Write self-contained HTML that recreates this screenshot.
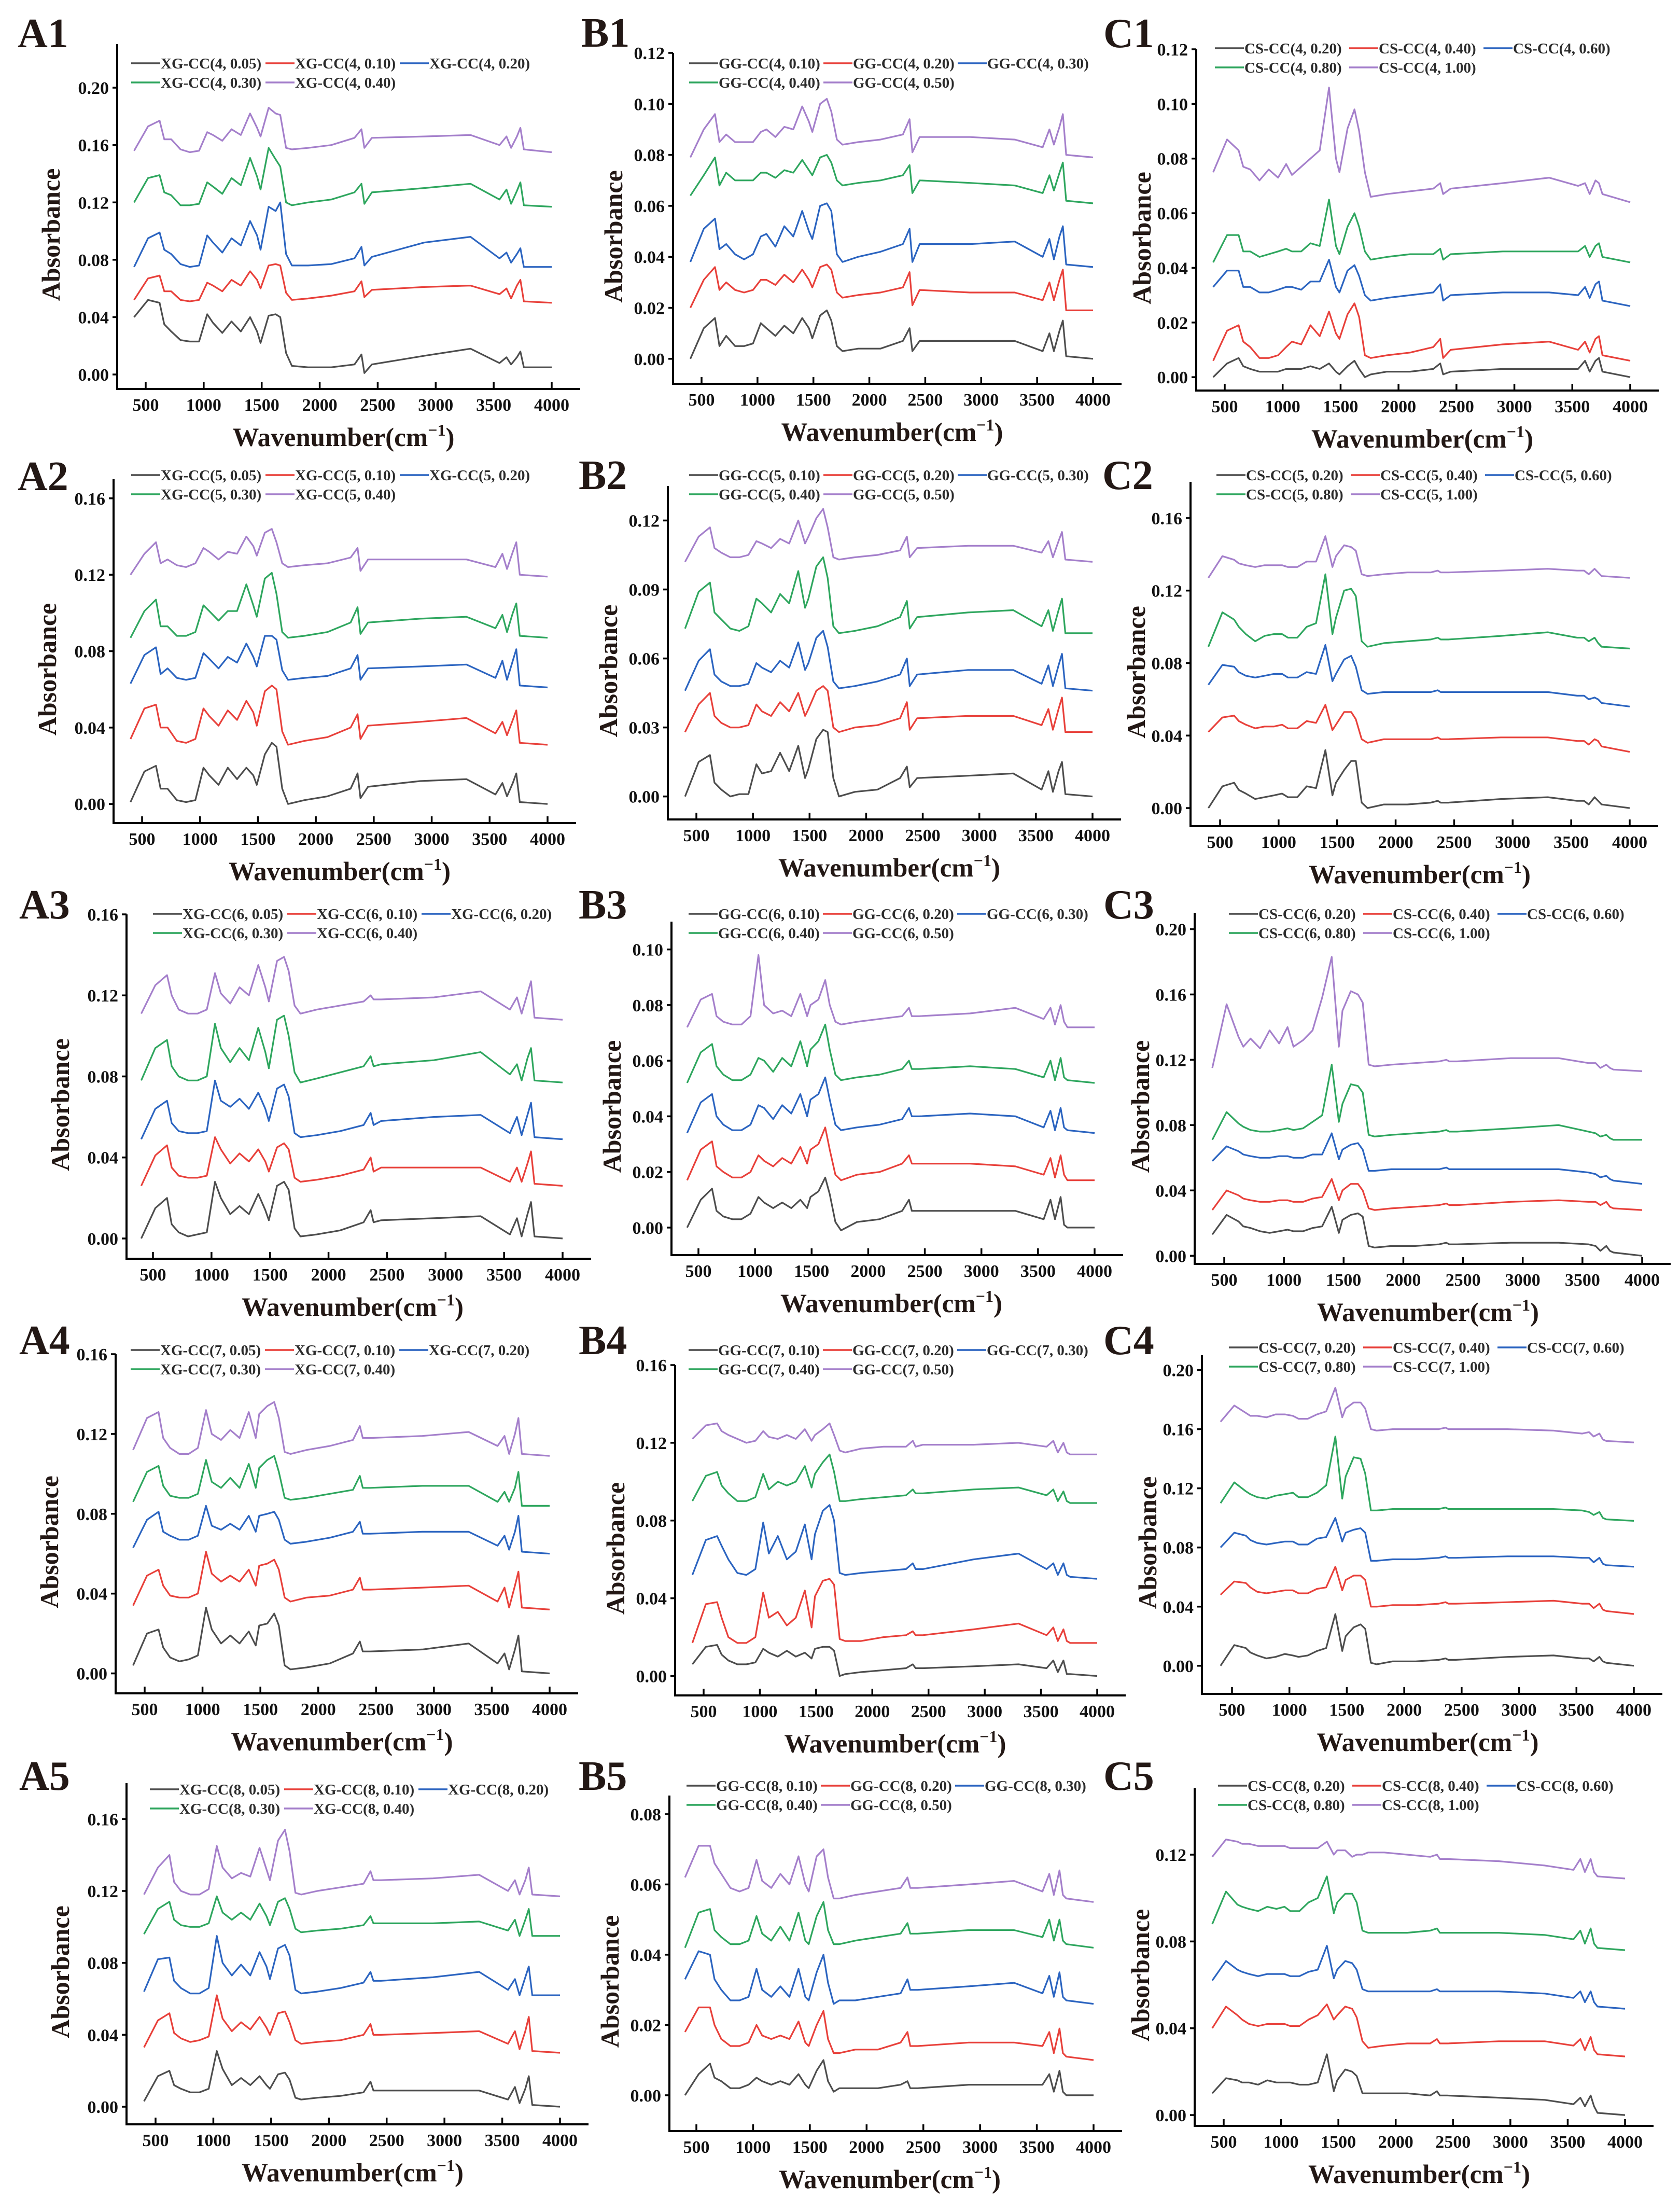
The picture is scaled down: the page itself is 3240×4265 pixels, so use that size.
<!DOCTYPE html>
<html><head><meta charset="utf-8">
<style>
html,body{margin:0;padding:0;background:#fff;}
svg{display:block;font-family:"Liberation Serif","DejaVu Serif",serif;font-weight:bold;}
</style></head>
<body>
<svg id="fig" xmlns="http://www.w3.org/2000/svg" width="3240" height="4265" viewBox="0 0 3240 4265"></svg>
<script>
// shared wavenumber grid (cm^-1)
const W = [400,520,620,660,720,800,880,960,1030,1080,1160,1240,1320,1400,1460,1490,1560,1620,1660,1710,1760,1900,2100,2300,2360,2385,2450,2900,3300,3550,3610,3650,3700,3730,3760,4000];
// absorbance values in units of 0.001
const A1_k=[40,52,50,35,30,24,23,23,42,36,29,37,30,40,30,22,41,42,40,15,6,5,5,7,14,1,7,13,18,8,12,7,12,16,5,5];
const A1_r=[52,67,69,58,58,52,51,52,64,62,58,66,62,72,66,60,76,77,76,57,52,53,55,58,65,54,59,61,62,56,60,53,62,66,51,50];
const A1_b=[75,95,99,87,84,77,75,76,97,92,85,95,90,107,97,87,117,114,120,84,76,76,77,81,89,76,82,92,96,81,85,78,84,88,75,75];
const A1_g=[120,137,139,127,125,118,118,119,134,131,126,137,132,151,138,129,158,150,145,120,118,120,122,127,133,119,127,130,133,122,129,119,128,134,118,117];
const A1_p=[156,173,177,164,164,157,155,156,169,167,163,171,167,182,172,166,186,182,181,158,157,158,160,165,171,158,165,166,167,160,166,158,166,172,157,155];
const B1_k=[0,12,16,5,9,5,5,6,14,12,9,13,10,16,12,8,17,19,15,5,3,4,4,7,12,3,7,7,7,3,10,3,11,15,1,0];
const B1_r=[20,31,36,27,30,27,26,27,31,31,29,33,30,35,31,28,36,37,35,26,24,25,26,28,34,21,27,26,26,23,30,23,31,35,19,19];
const B1_b=[38,51,55,43,45,41,39,41,48,49,44,52,48,58,50,47,60,61,58,41,38,40,42,45,51,38,45,45,46,40,47,39,48,52,37,36];
const B1_g=[64,72,79,68,73,70,70,70,73,73,71,74,73,78,74,72,79,80,77,70,68,69,70,72,76,65,70,69,68,65,72,66,73,77,62,61];
const B1_p=[79,90,96,85,88,85,85,85,89,90,87,91,90,99,93,89,100,102,97,86,84,85,86,88,94,81,87,87,86,83,90,84,91,96,80,79];
const C1_k=[0,5,7,4,3,2,2,2,3,3,3,4,3,5,2,1,4,6,3,0,1,2,2,3,5,1,2,3,3,3,6,2,6,7,2,0];
const C1_r=[6,17,19,13,11,7,7,8,11,13,12,19,15,24,16,14,23,27,22,8,7,8,9,11,14,7,10,12,13,10,13,9,14,15,8,6];
const C1_b=[33,39,39,33,33,31,31,32,33,33,32,35,35,43,33,31,39,41,37,30,28,29,30,31,34,28,30,31,31,30,33,29,34,35,28,26];
const C1_g=[42,52,52,46,46,44,45,46,47,46,46,49,48,65,48,45,55,60,55,46,43,44,45,45,47,43,45,46,46,46,48,44,48,49,44,42];
const C1_p=[75,87,83,77,76,72,76,73,78,74,77,80,83,106,80,75,91,98,90,75,66,67,68,69,71,67,69,71,73,70,71,67,72,71,67,64];
const A2_k=[1,17,20,8,8,2,1,2,19,15,10,19,13,19,15,10,26,32,30,8,0,2,4,8,16,3,9,12,13,5,11,4,11,16,1,0];
const A2_r=[34,50,52,40,40,33,32,34,50,46,41,49,44,54,48,41,59,62,60,38,31,33,35,40,47,34,41,43,45,37,43,36,44,49,32,31];
const A2_b=[63,78,82,68,71,66,65,66,79,76,71,77,74,84,77,72,88,88,86,70,65,66,67,71,78,65,71,72,73,66,75,65,75,81,62,61];
const A2_g=[87,101,107,93,93,88,88,90,104,101,96,101,101,115,104,98,118,121,110,90,87,88,90,95,103,89,95,97,98,92,99,90,100,105,88,87];
const A2_p=[120,131,137,126,128,125,124,126,134,132,128,132,131,140,135,130,142,144,137,126,124,125,126,129,134,122,128,128,128,124,131,123,132,137,120,119];
const B2_k=[0,15,18,6,3,0,1,1,14,10,11,19,11,22,8,12,25,29,28,8,0,2,3,8,13,4,8,9,10,3,11,2,11,15,1,0];
const B2_r=[28,40,45,35,32,30,30,31,40,37,35,41,37,45,35,38,46,48,46,30,28,30,31,34,41,29,34,35,35,31,38,29,38,43,28,28];
const B2_b=[46,59,64,53,50,48,48,49,58,56,54,59,56,67,55,58,69,72,65,50,47,48,50,53,60,48,53,55,55,49,57,48,57,62,47,46];
const B2_g=[73,89,93,80,77,73,72,74,86,84,80,88,84,98,82,86,100,104,95,74,71,72,74,78,85,73,78,80,81,74,81,72,81,86,71,71];
const B2_p=[102,113,117,108,106,104,104,105,111,110,108,112,110,120,110,113,121,125,117,104,103,104,105,107,113,104,108,109,109,106,111,104,111,115,103,102];
const C2_k=[0,12,14,10,8,5,6,7,8,6,6,12,11,32,7,14,21,26,26,3,0,2,2,3,4,3,3,5,6,4,4,2,6,4,2,0];
const C2_r=[42,50,51,48,46,44,45,45,46,44,44,48,47,57,43,46,53,53,49,38,36,38,38,38,39,38,38,39,39,37,37,35,38,37,34,31];
const C2_b=[68,79,78,75,73,72,73,74,74,72,72,75,74,90,70,74,82,84,78,65,63,64,64,64,65,64,64,64,64,62,62,60,61,60,58,56];
const C2_g=[89,108,104,100,96,92,95,96,96,94,94,100,102,129,96,105,120,121,117,92,89,91,92,93,94,93,93,95,97,94,94,92,94,91,89,88];
const C2_p=[127,139,137,135,134,133,134,134,134,133,133,136,136,150,133,139,145,144,142,129,128,129,130,130,131,130,130,131,132,131,131,129,132,130,128,127];
const A3_k=[0,15,20,7,3,1,2,3,28,20,12,16,12,22,14,9,26,28,24,5,1,2,4,8,14,8,9,10,11,2,10,1,12,18,1,0];
const A3_r=[26,41,46,35,31,30,30,31,50,44,37,42,38,44,38,33,45,47,44,30,28,29,31,34,40,33,35,35,35,28,35,28,37,43,27,26];
const A3_b=[49,64,68,57,53,52,52,53,78,68,65,69,64,72,64,58,74,76,70,52,50,51,53,56,62,56,58,60,61,52,60,51,61,67,50,49];
const A3_g=[78,94,98,85,80,78,78,80,106,94,87,94,88,104,92,84,108,110,100,82,77,79,82,85,90,85,86,88,92,81,86,78,89,94,78,77];
const A3_p=[111,125,130,120,113,111,111,113,131,121,116,124,120,135,124,117,137,139,132,115,111,113,115,117,120,118,118,119,122,113,119,111,121,127,109,108];
const B3_k=[0,10,14,6,4,3,3,5,11,9,7,9,7,10,7,11,13,18,12,2,-1,2,3,6,10,6,6,6,6,3,10,3,11,1,0,0];
const B3_r=[17,28,31,22,20,18,18,20,26,24,22,25,23,29,23,28,30,36,28,19,17,19,20,23,26,23,23,23,22,19,25,18,26,19,17,17];
const B3_b=[34,45,48,40,37,35,35,37,44,43,39,44,41,48,40,46,48,54,46,37,35,36,37,39,43,40,40,41,40,36,42,35,43,36,35,34];
const B3_g=[52,63,66,58,55,53,53,55,61,60,56,61,58,67,58,64,67,73,64,55,53,54,55,57,60,57,57,58,57,54,60,53,61,54,53,52];
const B3_p=[72,82,84,76,74,73,73,76,98,80,77,78,76,84,76,80,82,89,80,74,73,74,75,76,79,76,76,77,79,75,79,73,80,74,72,72];
const C3_k=[13,25,21,18,17,15,14,15,16,15,15,17,18,30,14,22,25,26,24,6,5,6,6,7,8,7,7,8,8,7,6,3,6,3,2,0];
const C3_r=[28,40,37,35,34,33,33,34,34,33,33,35,36,47,34,40,44,44,40,29,28,29,30,31,32,31,31,33,34,33,33,31,33,30,29,28];
const C3_b=[58,67,64,62,61,60,60,61,61,60,60,62,62,75,59,65,68,69,65,52,52,53,53,53,54,53,53,53,53,51,50,48,49,47,46,44];
const C3_g=[71,88,81,79,77,76,76,77,78,77,78,82,86,117,82,93,105,104,100,74,73,74,75,76,77,76,76,78,80,76,75,73,74,72,71,71];
const C3_p=[115,154,134,128,133,127,138,130,140,128,132,138,158,183,128,150,162,160,155,117,116,117,118,119,120,119,119,121,121,118,118,115,117,115,114,113];
const A4_k=[4,20,22,13,8,6,7,9,33,22,15,19,15,21,14,24,25,30,24,4,2,3,5,10,16,11,11,12,15,5,10,2,12,19,1,0];
const A4_r=[34,49,52,44,39,38,38,40,61,50,46,49,46,52,44,54,55,57,52,38,36,38,39,42,48,42,42,43,44,36,43,33,44,51,33,32];
const A4_b=[63,77,81,71,69,67,67,69,84,74,72,75,72,79,71,79,80,81,77,67,65,66,68,71,76,70,70,71,71,64,69,62,71,79,61,60];
const A4_g=[86,101,104,94,89,88,88,90,107,96,93,98,93,105,93,103,107,109,101,88,87,88,90,92,99,93,93,94,94,86,91,86,93,101,84,84];
const A4_p=[112,128,131,118,113,110,110,113,132,120,117,122,118,131,118,130,134,136,128,111,110,112,114,117,124,118,118,119,121,114,119,110,120,128,110,109];
const B4_k=[6,15,16,11,8,6,6,7,14,12,10,13,10,12,9,14,15,15,13,0,1,2,3,4,6,4,4,5,6,4,8,2,8,1,1,0];
const B4_r=[17,37,38,30,20,17,17,20,43,30,33,26,30,44,25,41,49,50,47,19,18,18,20,21,23,21,21,24,27,21,25,18,24,18,17,17];
const B4_b=[52,70,72,67,60,53,52,55,79,63,72,60,64,78,60,73,85,88,80,53,52,53,54,55,58,55,55,60,63,55,58,52,58,52,51,50];
const B4_g=[90,103,105,98,94,90,90,92,104,96,100,98,100,108,97,104,110,114,105,90,90,91,92,93,96,94,94,96,97,93,96,90,95,90,89,89];
const B4_p=[122,129,130,126,124,122,120,121,126,123,122,124,122,127,121,124,127,130,124,116,115,117,118,118,121,118,119,119,120,118,121,115,120,115,114,114];
const C4_k=[0,14,12,9,7,5,6,8,7,6,7,10,12,35,10,20,26,28,25,2,1,3,3,4,5,4,4,6,7,5,5,3,6,3,2,0];
const C4_r=[48,57,56,53,50,49,50,51,51,49,49,52,53,67,51,58,61,61,58,40,40,41,41,42,43,42,42,43,44,42,42,39,42,38,37,35];
const C4_b=[80,90,88,85,83,82,83,84,84,82,82,86,87,100,84,90,92,93,90,71,71,72,72,73,74,73,73,74,74,73,73,70,73,69,68,67];
const C4_g=[110,124,118,116,114,113,115,116,117,114,114,117,122,155,113,128,141,140,130,105,105,106,106,106,107,106,106,106,106,105,104,102,104,100,99,98];
const C4_p=[165,176,171,169,169,168,170,170,169,167,167,170,172,188,168,174,178,178,174,160,159,160,160,160,161,160,160,160,159,157,158,155,157,153,152,151];
const A5_k=[3,17,20,12,10,8,8,10,31,21,12,16,12,17,12,10,18,19,15,5,4,5,6,8,14,9,9,9,9,4,11,2,10,17,1,0];
const A5_r=[33,48,52,41,38,36,37,39,62,49,42,47,43,50,44,40,52,53,47,37,35,36,37,40,46,40,40,41,42,35,42,32,42,50,31,30];
const A5_b=[64,82,83,70,66,63,63,66,95,80,73,79,73,86,78,71,88,90,84,65,63,64,66,69,75,70,70,72,75,65,71,62,72,78,62,62];
const A5_g=[96,110,114,104,101,100,100,102,117,108,104,108,104,113,106,101,114,116,110,99,97,98,99,101,106,102,102,102,103,98,104,95,104,110,95,95];
const A5_p=[118,133,140,125,120,118,118,121,145,133,127,130,128,144,132,126,148,154,142,119,118,120,122,124,131,126,126,127,129,120,126,118,126,133,118,117];
const B5_k=[0,6,9,5,4,2,2,3,5,4,3,4,3,6,3,2,7,10,4,1,2,2,2,3,4,2,2,3,3,3,6,1,7,1,0,0];
const B5_r=[18,25,25,20,16,14,14,15,20,17,16,17,16,21,15,14,20,24,16,12,12,13,13,15,18,14,14,15,15,14,18,12,19,12,11,10];
const B5_b=[33,41,40,33,30,27,27,28,36,30,28,31,28,36,28,27,35,40,32,26,27,27,28,29,33,30,30,31,32,29,34,28,35,28,27,26];
const B5_g=[42,52,53,47,45,43,43,44,51,46,44,48,44,52,44,43,51,55,47,43,43,44,45,46,49,46,46,47,47,45,50,44,50,44,43,42];
const B5_p=[62,71,71,66,63,59,58,59,67,61,59,63,60,68,60,58,68,70,62,56,56,57,58,59,62,59,59,60,61,58,63,57,64,57,56,55];
const C5_k=[10,17,16,15,15,14,16,15,15,15,14,14,15,28,11,16,21,20,18,10,10,10,10,9,11,9,9,8,7,5,8,4,9,4,1,0];
const C5_r=[40,50,46,44,42,41,42,42,42,41,41,44,46,51,44,46,50,49,45,34,31,32,33,33,35,33,33,34,34,32,35,30,36,30,28,27];
const C5_b=[62,71,67,66,65,64,65,65,65,64,64,66,67,78,63,67,71,70,67,58,57,57,57,57,58,57,57,57,56,54,57,52,57,52,50,49];
const C5_g=[88,103,97,96,95,94,96,95,96,94,94,98,100,110,93,98,102,102,98,85,84,84,84,85,86,84,84,84,83,81,85,79,86,79,77,76];
const C5_p=[119,127,126,125,125,124,124,124,124,123,123,123,123,126,120,122,122,119,120,120,121,121,120,119,120,118,118,117,115,113,118,112,118,112,110,109];

// legend label parameters
const XG_conc=["0.05","0.10","0.20","0.30","0.40"];
const GG_conc=["0.10","0.20","0.30","0.40","0.50"];
const CS_conc=["0.20","0.40","0.60","0.80","1.00"];
const COLORS=["#4d4d4d","#e8403a","#2b64c0","#2ea65e","#a47fcb"];

const panels=[
 {id:"A1",pre:"XG",n:4,conc:XG_conc,s:[A1_k,A1_r,A1_b,A1_g,A1_p],ax:226,x5:281,x40:1064,top:85,bot:750,ymin:-0.0101,ymax:0.2304,step:0.04,tmax:0.20,legY:122,legX:253,lx:34,ly:91},
 {id:"B1",pre:"GG",n:4,conc:GG_conc,s:[B1_k,B1_r,B1_b,B1_g,B1_p],ax:1298,x5:1353,x40:2108,top:102,bot:740,ymin:-0.0098,ymax:0.12,step:0.02,tmax:0.12,legY:122,legX:1329,lx:1121,ly:90},
 {id:"C1",pre:"CS",n:4,conc:CS_conc,s:[C1_k,C1_r,C1_b,C1_g,C1_p],ax:2307,x5:2362,x40:3144,top:95,bot:753,ymin:-0.0049,ymax:0.12,step:0.02,tmax:0.12,legY:93,legX:2343,lx:2128,ly:91},
 {id:"A2",pre:"XG",n:5,conc:XG_conc,s:[A2_k,A2_r,A2_b,A2_g,A2_p],ax:219,x5:274,x40:1056,top:924,bot:1587,ymin:-0.01,ymax:0.17,step:0.04,tmax:0.16,legY:916,legX:253,lx:34,ly:945},
 {id:"B2",pre:"GG",n:5,conc:GG_conc,s:[B2_k,B2_r,B2_b,B2_g,B2_p],ax:1288,x5:1343,x40:2107,top:937,bot:1580,ymin:-0.01,ymax:0.135,step:0.03,tmax:0.12,legY:916,legX:1329,lx:1116,ly:943},
 {id:"C2",pre:"CS",n:5,conc:CS_conc,s:[C2_k,C2_r,C2_b,C2_g,C2_p],ax:2296,x5:2353,x40:3143,top:929,bot:1593,ymin:-0.01,ymax:0.18,step:0.04,tmax:0.16,legY:916,legX:2346,lx:2126,ly:943},
 {id:"A3",pre:"XG",n:6,conc:XG_conc,s:[A3_k,A3_r,A3_b,A3_g,A3_p],ax:244,x5:295,x40:1085,top:1763,bot:2427,ymin:-0.01,ymax:0.16,step:0.04,tmax:0.16,legY:1762,legX:295,lx:37,ly:1771},
 {id:"B3",pre:"GG",n:6,conc:GG_conc,s:[B3_k,B3_r,B3_b,B3_g,B3_p],ax:1295,x5:1347,x40:2111,top:1777,bot:2420,ymin:-0.0099,ymax:0.11,step:0.02,tmax:0.10,legY:1762,legX:1328,lx:1116,ly:1771},
 {id:"C3",pre:"CS",n:6,conc:CS_conc,s:[C3_k,C3_r,C3_b,C3_g,C3_p],ax:2304,x5:2361,x40:3167,top:1760,bot:2437,ymin:-0.005,ymax:0.21,step:0.04,tmax:0.20,legY:1762,legX:2370,lx:2128,ly:1771},
 {id:"A4",pre:"XG",n:7,conc:XG_conc,s:[A4_k,A4_r,A4_b,A4_g,A4_p],ax:223,x5:279,x40:1060,top:2611,bot:3265,ymin:-0.01,ymax:0.16,step:0.04,tmax:0.16,legY:2603,legX:252,lx:37,ly:2611},
 {id:"B4",pre:"GG",n:7,conc:GG_conc,s:[B4_k,B4_r,B4_b,B4_g,B4_p],ax:1302,x5:1357,x40:2116,top:2632,bot:3269,ymin:-0.01,ymax:0.16,step:0.04,tmax:0.16,legY:2603,legX:1328,lx:1116,ly:2611},
 {id:"C4",pre:"CS",n:7,conc:CS_conc,s:[C4_k,C4_r,C4_b,C4_g,C4_p],ax:2318,x5:2376,x40:3151,top:2613,bot:3266,ymin:-0.019,ymax:0.21,step:0.04,tmax:0.20,legY:2598,legX:2370,lx:2128,ly:2611},
 {id:"A5",pre:"XG",n:8,conc:XG_conc,s:[A5_k,A5_r,A5_b,A5_g,A5_p],ax:244,x5:300,x40:1080,top:3438,bot:4096,ymin:-0.0098,ymax:0.18,step:0.04,tmax:0.16,legY:3450,legX:289,lx:37,ly:3451},
 {id:"B5",pre:"GG",n:8,conc:GG_conc,s:[B5_k,B5_r,B5_b,B5_g,B5_p],ax:1291,x5:1343,x40:2109,top:3462,bot:4109,ymin:-0.0102,ymax:0.0853,step:0.02,tmax:0.08,legY:3443,legX:1324,lx:1116,ly:3451},
 {id:"C5",pre:"CS",n:8,conc:CS_conc,s:[C5_k,C5_r,C5_b,C5_g,C5_p],ax:2304,x5:2360,x40:3134,top:3448,bot:4099,ymin:-0.005,ymax:0.1506,step:0.04,tmax:0.12,legY:3443,legX:2349,lx:2128,ly:3451}
];
const XTICKS=[500,1000,1500,2000,2500,3000,3500,4000];

const NS="http://www.w3.org/2000/svg";
const svg=document.getElementById("fig");
function mk(tag,attrs,parent){
  const e=document.createElementNS(NS,tag);
  for(const k in attrs) e.setAttribute(k,attrs[k]);
  (parent||svg).appendChild(e);
  return e;
}

panels.forEach(p=>{
  const g=mk("g",{});
  
  
  const xs=w=>p.x5+(w-500)*(p.x40-p.x5)/3500;
  const ys=v=>p.bot-(v-p.ymin)*(p.bot-p.top)/(p.ymax-p.ymin);
  const axRight=p.x40+55;

  // panel label
  const lab=mk("text",{x:p.lx,y:p.ly,"font-size":80,fill:"#231815"},g);
  
  
  lab.textContent=p.id;

  // series
  p.s.forEach((arr,i)=>{
    const pts=arr.map((v,j)=>xs(W[j]).toFixed(1)+","+ys(v/1000).toFixed(1)).join(" ");
    const pl=mk("polyline",{points:pts,fill:"none",stroke:COLORS[i],"stroke-width":3.2,"stroke-linejoin":"round"},g);
    
    
  });

  // axes
  const ya=mk("line",{x1:p.ax,y1:p.top,x2:p.ax,y2:p.bot+2,stroke:"#000","stroke-width":4},g);
  
  
  const xa=mk("line",{x1:p.ax-2,y1:p.bot,x2:axRight,y2:p.bot,stroke:"#000","stroke-width":4},g);
  
  

  // y ticks
  const nT=Math.round(p.tmax/p.step);
  for(let k=0;k<=nT;k++){
    const v=k*p.step, y=ys(v);
    const t=mk("line",{x1:p.ax-9,y1:y,x2:p.ax,y2:y,stroke:"#000","stroke-width":3.5},g);
    
    
    const tl=mk("text",{x:p.ax-16,y:y+12,"font-size":34,"text-anchor":"end",fill:"#111"},g);
    
    
    tl.textContent=v.toFixed(2);
  }
  // x ticks
  XTICKS.forEach(w=>{
    const x=xs(w);
    const t=mk("line",{x1:x,y1:p.bot,x2:x,y2:p.bot-13,stroke:"#000","stroke-width":3.5},g);
    
    
    const tl=mk("text",{x:x,y:p.bot+42,"font-size":34,"text-anchor":"middle",fill:"#111"},g);
    
    
    tl.textContent=String(w);
  });

  // axis titles
  const col=p.id[0];
  const yx=p.ax-(col==="A"?128:(col==="B"?115:105));
  const yc=(p.top+p.bot)/2+35;
  const yt=mk("text",{x:yx,y:yc,"font-size":50,"text-anchor":"middle",fill:"#231815",transform:"rotate(-90 "+yx+" "+yc+")",dy:"17"},g);
  
  
  yt.textContent="Absorbance";
  const xc=(p.x5+p.x40)/2-10;
  const xt=mk("text",{x:xc,y:p.bot+110,"font-size":51,"text-anchor":"middle",fill:"#231815"},g);
  
  
  xt.appendChild(document.createTextNode("Wavenumber(cm"));
  const sup=mk("tspan",{"font-size":32,dy:"-20"},xt);
  sup.textContent="\u22121";
  const cl=mk("tspan",{dy:"20"},xt);
  cl.textContent=")";

  // legend
  p.conc.forEach((c,i)=>{
    const row=i<3?0:1, colI=i<3?i:i-3;
    const lx=p.legX+colI*259, ly=p.legY+row*37;
    const lg=mk("g",{},g);
    
    
    const ln=mk("line",{x1:lx,y1:ly,x2:lx+56,y2:ly,stroke:COLORS[i],"stroke-width":3.5},lg);
    
    
    const lt=mk("text",{x:lx+57,y:ly+10,"font-size":29,fill:"#2b2b2b"},lg);
    
    
    lt.textContent=p.pre+"-CC("+p.n+", "+c+")";
  });
});
</script>
</body></html>
